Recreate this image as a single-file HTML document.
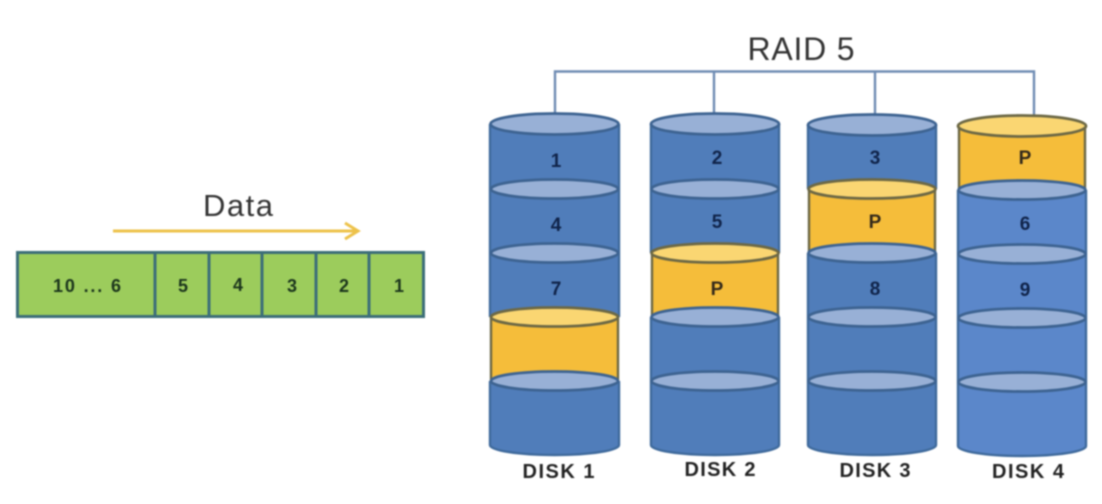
<!DOCTYPE html>
<html>
<head>
<meta charset="utf-8">
<style>
html,body{margin:0;padding:0;background:#fff;}
svg{display:block;filter:blur(0.8px);}
text{font-family:"Liberation Sans",sans-serif;}
.n{font-size:19px;font-weight:bold;text-anchor:middle;fill:#10244a;}
.p{font-size:19px;font-weight:bold;text-anchor:middle;fill:#33291a;}
.g{font-size:18px;font-weight:bold;text-anchor:middle;fill:#1b351c;}
.d{font-size:20px;font-weight:bold;text-anchor:middle;fill:#222;}
.b{fill:#507dba;}
.b4{fill:#5b87ca;}
.y{fill:#f5bd3a;}
.eb{fill:#98b0d6;stroke:#3d6391;stroke-width:2.8;}
.ey{fill:#fad672;stroke:#6c6845;stroke-width:2.8;}
.s{fill:none;stroke:#3f6a9c;stroke-width:2.4;}
.sy{fill:none;stroke:#6c6845;stroke-width:2.4;}
</style>
</head>
<body>
<svg width="1102" height="504" viewBox="0 0 1102 504" xmlns="http://www.w3.org/2000/svg">
<rect width="1102" height="504" fill="#fff"/>

<!-- Data bar -->
<text x="238" y="216" font-size="31" fill="#333" text-anchor="middle" textLength="70">Data</text>
<path d="M113 231H357M345 223L358 231L345 239" fill="none" stroke="#edc24a" stroke-width="3"/>
<rect x="17.500" y="252.500" width="406" height="64" fill="#9ccc5c" stroke="#3c6e78" stroke-width="3"/>
<path d="M155 252V317M209 252V317M262 252V317M316 252V317M369 252V317" stroke="#3c6e78" stroke-width="3" fill="none"/>
<text class="g" x="87" y="292" textLength="68">10 ... 6</text>
<text class="g" x="183" y="292">5</text>
<text class="g" x="238" y="291">4</text>
<text class="g" x="292" y="292">3</text>
<text class="g" x="344" y="292">2</text>
<text class="g" x="399" y="292">1</text>

<!-- RAID 5 -->
<text x="801" y="60" font-size="32" fill="#333" text-anchor="middle" textLength="107">RAID 5</text>
<path d="M555 114V71.500H1034V116M714 71V114M875 71V115" fill="none" stroke="#6f8cb3" stroke-width="2.4"/>

<!-- Disk 1 -->
<rect class="b" x="490" y="124" width="129" height="65"/>
<rect class="b" x="490" y="189" width="129" height="64"/>
<rect class="b" x="490" y="253" width="129" height="64"/>
<rect class="y" x="490" y="317" width="129" height="64"/>
<path class="b" d="M490 381V445A64.500 10 0 0 0 619 445V381Z"/>
<path class="s" d="M490 124V317M619 124V317M490 381V445A64.500 10 0 0 0 619 445V381"/>
<path class="sy" d="M491 317V381M618 317V381"/>
<ellipse class="eb" cx="554.500" cy="124" rx="64" ry="10.500"/>
<ellipse class="eb" cx="554.500" cy="189" rx="63.500" ry="9.500"/>
<ellipse class="eb" cx="554.500" cy="253" rx="63.500" ry="9.500"/>
<ellipse class="ey" cx="554.500" cy="317" rx="63.500" ry="9.500"/>
<ellipse class="eb" cx="554.500" cy="381" rx="63.500" ry="9.500"/>
<text class="n" x="556" y="167">1</text>
<text class="n" x="556" y="231">4</text>
<text class="n" x="556" y="295">7</text>
<text class="d" x="558.500" y="478" textLength="72">DISK 1</text>

<!-- Disk 2 -->
<rect class="b" x="651" y="124" width="128" height="65"/>
<rect class="b" x="651" y="189" width="128" height="64"/>
<rect class="y" x="651" y="253" width="128" height="64"/>
<rect class="b" x="651" y="317" width="128" height="64"/>
<path class="b" d="M651 381V445A64 10 0 0 0 779 445V381Z"/>
<path class="s" d="M651 124V253M779 124V253M651 317V445A64 10 0 0 0 779 445V317"/>
<path class="sy" d="M652 253V317M778 253V317"/>
<ellipse class="eb" cx="715" cy="124" rx="64" ry="10.500"/>
<ellipse class="eb" cx="715" cy="189" rx="63.500" ry="9.500"/>
<ellipse class="ey" cx="715" cy="253" rx="63.500" ry="9.500"/>
<ellipse class="eb" cx="715" cy="317" rx="63.500" ry="9.500"/>
<ellipse class="eb" cx="715" cy="381" rx="63.500" ry="9.500"/>
<text class="n" x="717" y="164">2</text>
<text class="n" x="717" y="228">5</text>
<text class="p" x="717" y="295">P</text>
<text class="d" x="720" y="476" textLength="71">DISK 2</text>

<!-- Disk 3 -->
<rect class="b" x="808" y="125" width="128" height="64"/>
<rect class="y" x="808" y="189" width="128" height="64"/>
<rect class="b" x="808" y="253" width="128" height="64"/>
<rect class="b" x="808" y="317" width="128" height="64"/>
<path class="b" d="M808 381V445A64 10 0 0 0 936 445V381Z"/>
<path class="s" d="M808 125V189M936 125V189M808 253V445A64 10 0 0 0 936 445V253"/>
<path class="sy" d="M809 189V253M935 189V253"/>
<ellipse class="eb" cx="872" cy="125" rx="64" ry="10.500"/>
<ellipse class="ey" cx="872" cy="189" rx="63.500" ry="9.500"/>
<ellipse class="eb" cx="872" cy="253" rx="63.500" ry="9.500"/>
<ellipse class="eb" cx="872" cy="317" rx="63.500" ry="9.500"/>
<ellipse class="eb" cx="872" cy="381" rx="63.500" ry="9.500"/>
<text class="n" x="875" y="164">3</text>
<text class="p" x="875" y="228">P</text>
<text class="n" x="875" y="295">8</text>
<text class="d" x="875" y="477" textLength="71">DISK 3</text>

<!-- Disk 4 -->
<rect class="y" x="958" y="126" width="128" height="64"/>
<rect class="b4" x="958" y="190" width="128" height="64"/>
<rect class="b4" x="958" y="254" width="128" height="64"/>
<rect class="b4" x="958" y="318" width="128" height="64"/>
<path class="b4" d="M958 382V446A64 10 0 0 0 1086 446V382Z"/>
<path class="sy" d="M959 126V190M1085 126V190"/>
<path class="s" d="M958 190V446A64 10 0 0 0 1086 446V190"/>
<ellipse class="ey" cx="1022" cy="126" rx="64" ry="10.500"/>
<ellipse class="eb" cx="1022" cy="190" rx="63.500" ry="9.500"/>
<ellipse class="eb" cx="1022" cy="254" rx="63.500" ry="9.500"/>
<ellipse class="eb" cx="1022" cy="318" rx="63.500" ry="9.500"/>
<ellipse class="eb" cx="1022" cy="382" rx="63.500" ry="9.500"/>
<text class="p" x="1025" y="164">P</text>
<text class="n" x="1025" y="230">6</text>
<text class="n" x="1025" y="296">9</text>
<text class="d" x="1028" y="478" textLength="72">DISK 4</text>
</svg>
</body>
</html>
